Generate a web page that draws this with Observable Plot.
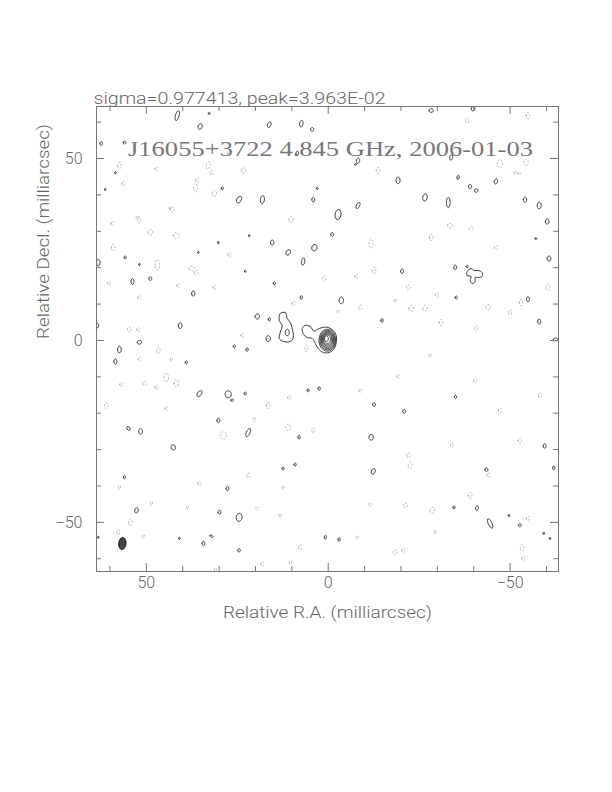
<!DOCTYPE html>
<html><head><meta charset="utf-8">
<script src="https://cdn.jsdelivr.net/npm/d3@7"></script>
<script src="https://cdn.jsdelivr.net/npm/@observablehq/plot@0.6"></script>
<style>body{margin:0;background:#fff} svg{display:block}</style>
</head><body><div id="chart"></div>
<script>
const statsLine = "sigma=0.977413, peak=3.963E-02";
const mapTitle = "J16055+3722 4.845 GHz, 2006-01-03";
const xLabel = "Relative R.A. (milliarcsec)";
const yLabel = "Relative Decl. (milliarcsec)";
const majorTicks = [-50, 0, 50];
const minorTicks = [-60, -40, -30, -20, -10, 10, 20, 30, 40, 60];
const xDomain = [63.7, -63.3];
const yDomain = [-63.5, 64.3];

// positive contour islands: [RA, Dec, semi-axis RA, semi-axis Dec, tilt deg] (mas)
const posBlobs = [
[41.5,61.8,0.5,1.4,15],[32.7,62.4,0.25,0.3,0],[35.2,58.8,0.55,0.8,20],[16.2,59.3,0.45,0.8,20],
[7.4,59.6,0.45,0.9,10],[4.4,58.0,0.45,0.5,0],[62.4,54.1,0.35,0.5,0],[56.0,54.4,0.35,0.4,0],
[8.5,51.4,0.35,0.6,0],[24.5,38.7,0.6,1.0,30],[18.1,38.7,0.55,1.1,5],[4.1,38.7,0.4,0.6,0],
[29.1,41.8,0.3,0.4,0],[3.0,41.8,0.25,0.3,0],[-28.3,63.2,0.6,0.5,0],[-39.8,63.7,0.5,0.6,20],
[-8.2,49.4,0.45,0.7,10],[-7.5,48.4,0.25,0.25,0],[-33.8,50.3,0.4,0.75,15],[-19.2,44.0,0.55,0.9,0],
[-35.7,44.8,0.3,0.6,10],[-39.0,42.3,0.45,0.6,0],[-40.7,41.2,0.45,0.5,30],[-46.1,43.7,0.45,0.7,10],
[-26.6,39.3,0.6,1.0,10],[-33.0,37.9,0.5,1.4,0],[-54.1,38.7,0.45,0.7,0],[-58.0,37.1,0.55,0.9,0],
[-8.2,37.1,0.45,0.9,25],[-2.7,34.6,0.8,1.4,10],[-60.2,32.7,0.5,0.7,0],[-1.1,29.1,0.4,0.5,0],
[-57.1,28.0,0.25,0.25,0],[-60.7,22.5,0.5,0.7,0],[-34.9,20.1,0.4,0.6,0],[-20.3,19.0,0.4,0.6,0],
[-38.2,20.3,0.25,0.3,0],[-3.6,11.0,0.6,0.9,0],[-35.2,11.8,0.3,0.4,0],[-54.9,11.3,0.4,0.7,0],
[-14.8,5.5,0.3,0.5,0],[-58.0,5.2,0.4,0.7,0],[15.4,26.9,0.45,0.7,0],[11.0,24.2,0.55,0.8,30],
[6.9,21.7,0.45,1.0,10],[3.8,25.5,0.7,0.9,20],[63.2,21.4,0.5,0.9,0],[55.8,22.8,0.3,0.4,0],
[51.9,20.9,0.2,0.3,0],[53.8,16.2,0.4,0.8,0],[48.9,17.0,0.4,0.5,0],[37.1,12.9,0.45,0.7,0],
[14.8,15.7,0.3,0.4,0],[7.4,11.8,0.3,0.5,0],[19.5,6.6,0.6,0.7,0],[16.2,5.8,0.3,0.4,0],
[40.7,4.1,0.5,0.8,0],[21.7,28.8,0.2,0.3,0],[30.2,26.9,0.2,0.35,0],[35.7,24.2,0.2,0.3,0],
[22.8,19.0,0.2,0.3,0],[61.3,41.5,0.2,0.3,0],[58.5,46.1,0.2,0.3,0],[57.4,-2.5,0.5,0.9,0],
[58.5,-5.8,0.4,0.7,0],[51.9,-0.5,0.6,0.5,0],[39.0,-6.0,0.3,0.4,0],[25.8,-1.6,0.3,0.4,0],
[22.3,-2.5,0.3,0.5,0],[16.5,0.5,0.6,0.8,0],[35.4,-14.6,0.55,0.9,35],[27.5,-14.8,0.85,0.95,0],
[26.4,-16.4,0.35,0.35,0],[22.8,-14.6,0.3,0.4,0],[5.5,-13.7,0.3,0.4,0],[2.5,-13.2,0.3,0.5,0],
[54.9,-24.2,0.4,0.6,-30],[51.6,-25.0,0.5,0.8,0],[30.2,-22.0,0.4,0.6,0],[22.0,-25.3,0.5,1.2,25],
[8.0,-26.6,0.3,0.5,0],[42.6,-29.4,0.6,0.7,-30],[56.0,-37.6,0.3,0.4,0],[27.7,-40.7,0.4,0.6,0],
[12.4,-35.2,0.3,0.4,0],[9.1,-34.1,0.3,0.4,0],[52.7,-46.7,0.5,0.7,10],[29.9,-47.2,0.4,0.5,0],
[24.5,-48.6,0.8,1.1,10],[34.3,-55.8,0.4,0.6,0],[32.1,-53.8,0.45,0.3,30],[24.5,-57.7,0.4,0.4,0],
[0.8,-54.1,0.3,0.5,0],[40.9,-54.4,0.2,0.3,0],[63.2,-54.1,0.2,0.3,0],[-34.6,-45.9,0.3,0.4,0],
[-40.9,-46.1,0.4,0.6,15],[-44.5,-50.3,0.5,1.4,-25],[-52.7,-50.8,0.4,0.4,0],[-3.0,-54.7,0.3,0.5,0],
[-49.7,-48.1,0.2,0.3,0],[-61.0,-54.4,0.2,0.3,0],[-59.3,-53.0,0.2,0.3,0],[-12.6,-17.6,0.4,0.5,0],
[-20.9,-19.5,0.4,0.5,0],[-11.8,-26.6,0.6,0.8,0],[-12.4,-36.0,0.5,0.8,20],[-35.0,-15.5,0.3,0.4,0],
[-43.5,-35.5,0.4,0.5,0],[-59.5,-29.0,0.4,0.6,0],[-62.0,-35.0,0.3,0.5,0],[63.4,4.1,0.3,0.6,0],
[11.26,2.2,0.55,0.9,0],[-62.5,0.3,0.6,0.4,0]
];

// negative contour islands (dotted): [RA, Dec, semi-axis RA, semi-axis Dec, tilt deg]
const negBlobs = [
[57.4,48.1,0.5,0.9,0],[47.2,47.2,0.4,0.6,0],[33.0,48.1,0.5,1.0,10],[32.1,46.1,0.4,0.7,0],
[23.3,46.7,0.6,0.7,0],[36.5,42.0,0.5,1.2,0],[31.3,40.4,0.6,0.8,0],[56.3,43.1,0.4,0.6,0],
[42.9,36.0,0.5,0.7,0],[51.9,33.0,0.4,0.8,0],[59.3,32.1,0.4,0.6,0],[48.9,29.7,0.6,0.8,0],
[41.8,28.8,0.8,0.8,0],[59.1,25.5,0.5,0.9,0],[47.0,20.8,0.6,1.4,0],[37.6,19.8,0.7,0.7,0],
[36.3,18.7,0.5,0.6,0],[27.2,23.6,0.4,0.6,0],[10.2,33.2,0.6,0.8,0],[9.6,10.2,0.4,0.6,0],
[54.7,3.0,0.5,0.7,0],[52.2,3.0,0.4,0.6,0],[41.2,15.1,0.4,0.6,0],[51.9,11.8,0.4,0.6,0],
[31.3,14.6,0.4,0.6,0],[60.2,15.7,0.4,0.6,0],[1.1,17.0,0.4,0.8,0],[23.6,1.4,0.4,0.6,0],
[-13.7,46.7,0.5,0.8,0],[-47.2,48.6,0.7,1.1,0],[-54.4,48.9,0.6,0.9,0],[-52.5,45.9,0.3,0.4,0],
[-33.5,31.6,0.7,0.6,0],[-39.3,30.8,0.6,0.5,0],[-11.8,26.6,0.6,1.2,0],[-28.3,28.3,0.5,0.8,0],
[-46.1,25.5,0.4,0.6,0],[-12.6,19.2,0.5,0.9,0],[-7.7,17.6,0.4,0.6,0],[-22.0,14.6,0.5,0.7,0],
[-29.9,12.6,0.4,0.6,0],[-8.8,9.1,0.4,0.7,0],[-22.8,8.8,0.6,0.8,0],[-26.6,8.8,0.6,0.8,0],
[-44.0,9.1,0.6,0.7,0],[-50.0,7.7,0.4,0.7,0],[-53.0,10.4,0.5,0.8,0],[-60.4,14.6,0.5,0.9,0],
[-31.0,4.9,0.5,0.8,0],[-40.7,3.3,0.4,0.8,0],[-18.4,11.0,0.3,0.5,0],[-2.7,8.0,0.3,0.5,0],
[46.7,-2.7,0.5,0.9,0],[51.9,-5.2,0.4,0.6,0],[43.1,-5.2,0.3,0.5,0],[44.5,-10.2,0.6,1.2,0],
[41.8,-11.8,0.6,1.0,0],[56.9,-12.1,0.4,0.6,0],[50.5,-11.8,0.5,0.6,0],[47.2,-12.9,0.4,0.6,0],
[61.0,-17.9,0.5,0.7,0],[44.5,-18.7,0.4,0.6,0],[16.5,-17.9,0.5,0.8,0],[28.8,-26.1,0.8,1.0,0],
[10.7,-15.7,0.4,0.6,0],[11.0,-23.9,0.6,0.9,0],[20.3,-21.7,0.3,0.6,0],[4.1,-24.7,0.4,0.7,0],
[35.4,-39.3,0.4,0.6,0],[22.0,-37.1,0.4,0.7,0],[12.4,-40.4,0.3,0.5,0],[48.6,-44.8,0.3,0.5,0],
[57.4,-40.4,0.3,0.5,0],[6.0,-2.2,0.4,0.8,0],[57.7,-52.7,0.4,0.7,0],[54.4,-50.0,0.5,0.9,0],
[50.8,-53.8,0.3,0.5,0],[38.7,-45.9,0.3,0.5,0],[19.5,-46.1,0.4,0.5,0],[13.2,-48.1,0.3,0.5,0],
[7.7,-56.9,0.4,0.7,0],[10.4,-61.0,0.3,0.5,0],[18.1,-61.5,0.4,0.6,0],[31.0,-62.9,0.3,0.4,0],
[-11.5,-45.1,0.4,0.5,0],[-21.2,-45.3,0.6,0.6,0],[-28.6,-46.7,0.6,0.8,0],[-18.4,-58.2,0.5,0.7,0],
[-20.6,-57.7,0.4,0.6,0],[-53.3,-57.1,0.5,0.9,0],[-53.6,-59.9,0.4,0.6,0],[-29.4,-52.7,0.3,0.5,0],
[-8.0,-54.1,0.3,0.5,0],[-54.9,-48.9,0.4,0.6,0],[-54.9,61.8,0.5,0.8,0],[-38.2,60.4,0.4,0.7,0],
[-51.4,46.1,0.3,0.5,0],[27.2,51.4,0.4,0.6,0],[36.0,44.0,0.4,0.6,0],[43.4,36.3,0.3,0.5,0],
[52.5,33.8,0.3,0.5,0],[-22.5,-34.3,0.5,0.9,0],[-22.0,-31.6,0.4,0.7,0],[-39.0,-42.6,0.5,0.8,0],
[-44.0,-37.0,0.4,0.6,0],[-34.0,-28.8,0.4,0.6,0],[-47.2,-19.2,0.4,0.6,0],[-58.2,-15.1,0.4,0.7,0],
[-40.4,-11.0,0.4,0.6,0],[-28.0,-4.1,0.3,0.5,0],[-52.7,-27.5,0.5,0.8,0],[-19.2,-9.9,0.4,0.6,0],
[-8.8,-13.7,0.3,0.5,0]
];

// core: nested contours (edges in mas)
const coreLeft   = [2.55, 2.3, 2.05, 1.85, 1.65, 1.45, 1.25, 1.05];
const coreRight  = [-2.05, -1.85, -1.65, -1.45, -1.2, -0.95, -0.65, -0.05];
const coreTop    = [3.1, 2.8, 2.5, 2.25, 2.0, 1.75, 1.5, 1.25];
const coreBottom = [-2.95, -2.6, -2.25, -1.9, -1.55, -1.2, -0.8, -0.3];

// lowest contour around core + eastern extension: [RA, Dec]
const coreOutline = [
[3.85,2.47],[4.94,3.85],[6.32,4.12],[7.14,3.30],[6.87,1.92],[5.77,0.82],[4.40,0.55],
[3.57,-0.82],[2.75,-2.20],[1.37,-3.30],[-0.27,-3.30],[-1.65,-2.20],[-2.20,-0.55],
[-2.20,1.37],[-1.37,2.75],[0,3.57],[1.65,3.57],[3.02,3.02]
];
// secondary component ~12 mas east
const jetOutline = [
[13.19,7.42],[11.81,7.69],[11.26,6.04],[10.44,4.94],[9.89,3.30],[9.61,0.82],[10.44,-0.27],
[12.36,-0.27],[13.46,0.55],[13.19,2.20],[12.64,4.12],[13.46,5.49]
];
// three-lobed island near (-40, 18)
const lobeOutline = [
[-38.18,18.95],[-39.28,19.78],[-40.10,19.23],[-41.20,19.23],[-42.30,18.68],[-42.30,17.58],
[-41.20,17.31],[-40.38,17.31],[-40.38,16.21],[-39.56,15.66],[-39.01,16.48],[-39.28,17.58],[-38.18,17.86]
];
// restoring beam: [RA, Dec, semi RA, semi Dec, tilt]
const beam = [56.6, -55.8, 1.0, 1.65, 5];

function ellipse(b, id, n = 28) {
  const [cx, cy, a, bb, t] = b;
  const th = t * Math.PI / 180;
  const pts = [];
  for (let i = 0; i < n; i++) {
    const u = 2 * Math.PI * i / n;
    const ex = a * Math.cos(u), ey = bb * Math.sin(u);
    pts.push({x: cx + ex * Math.cos(th) - ey * Math.sin(th), y: cy + ex * Math.sin(th) + ey * Math.cos(th), g: id});
  }
  return pts;
}
const posPts = posBlobs.flatMap((b, i) => ellipse(b, "p" + i));
const negPts = negBlobs.flatMap((b, i) => ellipse(b, "n" + i));
const corePts = coreLeft.flatMap((l, i) => ellipse([(l + coreRight[i]) / 2, (coreTop[i] + coreBottom[i]) / 2, (l - coreRight[i]) / 2, (coreTop[i] - coreBottom[i]) / 2, 0], "c" + i));
const outlinePts = [
  ...coreOutline.map(([x, y]) => ({x, y, g: "core"})),
  ...jetOutline.map(([x, y]) => ({x, y, g: "jet"})),
  ...lobeOutline.map(([x, y]) => ({x, y, g: "lobe"}))
];
const beamPts = ellipse(beam, "beam", 40);

const W = 612, H = 792, mL = 96, mR = 54, mT = 106, mB = 221;
const fw = W - mL - mR, fh = H - mT - mB;
const fmt = d => d < 0 ? "\u2212" + Math.abs(d) : String(d);
const axisFont = "Roboto, Lato, Liberation Sans, sans-serif";
const textColor = "#666";

const chart = Plot.plot({
  width: W, height: H,
  marginLeft: mL, marginRight: mR, marginTop: mT, marginBottom: mB,
  x: {domain: xDomain, axis: null},
  y: {domain: yDomain, axis: null},
  style: {background: "#fff"},
  marks: [
    Plot.line(negPts, {x: "x", y: "y", z: "g", curve: "linear-closed", stroke: "#999", strokeWidth: 0.8, strokeDasharray: "1,2.5"}),
    Plot.line(posPts, {x: "x", y: "y", z: "g", curve: "linear-closed", stroke: "#222", strokeWidth: 0.9}),
    Plot.line(outlinePts, {x: "x", y: "y", z: "g", curve: "catmull-rom-closed", stroke: "#222", strokeWidth: 0.9}),
    Plot.line(corePts, {x: "x", y: "y", z: "g", curve: "linear-closed", stroke: "#222", strokeWidth: 0.8}),
    Plot.line(beamPts, {x: "x", y: "y", z: "g", curve: "linear-closed", stroke: "#111", fill: "#444", strokeWidth: 1}),
    Plot.frame({stroke: "#777", strokeWidth: 1}),
    // inward ticks
    Plot.tickX(minorTicks, {x: d => d, insetTop: fh - 5, stroke: "#777"}),
    Plot.tickX(minorTicks, {x: d => d, insetBottom: fh - 5, stroke: "#777"}),
    Plot.tickX(majorTicks, {x: d => d, insetTop: fh - 8, stroke: "#777"}),
    Plot.tickX(majorTicks, {x: d => d, insetBottom: fh - 8, stroke: "#777"}),
    Plot.tickY(minorTicks, {y: d => d, insetRight: fw - 5, stroke: "#777"}),
    Plot.tickY(minorTicks, {y: d => d, insetLeft: fw - 5, stroke: "#777"}),
    Plot.tickY(majorTicks, {y: d => d, insetRight: fw - 8, stroke: "#777"}),
    Plot.tickY(majorTicks, {y: d => d, insetLeft: fw - 8, stroke: "#777"}),
    // tick labels
    Plot.text(majorTicks, {x: d => d, frameAnchor: "bottom", dy: 16, text: fmt, fontSize: 16, fontWeight: 300, fill: textColor, fontFamily: axisFont}),
    Plot.text(majorTicks, {y: d => d, frameAnchor: "left", dx: -14, textAnchor: "end", text: fmt, fontSize: 16, fontWeight: 300, fill: textColor, fontFamily: axisFont}),
    // labels
    Plot.text([xLabel], {frameAnchor: "bottom", dy: 46, text: d => d, fontSize: 16, fontWeight: 300, fill: textColor, fontFamily: axisFont}),
    Plot.text([yLabel], {frameAnchor: "left", dx: -53, rotate: -90, text: d => d, fontSize: 16, fontWeight: 300, fill: textColor, fontFamily: axisFont}),
    Plot.text([statsLine], {frameAnchor: "top-left", dx: -3, dy: -14, textAnchor: "start", text: d => d, fontSize: 16, fontWeight: 300, fill: textColor, fontFamily: axisFont}),
    Plot.text([mapTitle], {frameAnchor: "top", dx: 3, dy: 34, text: d => d, fontSize: 22, fill: "#777", fontFamily: "Liberation Serif, DejaVu Serif, serif"})
  ]
});

const lengths = {};
lengths[mapTitle] = 405; lengths[statsLine] = 292; lengths[xLabel] = 209; lengths[yLabel] = 215;
d3.select(chart).selectAll("text").each(function() {
  const t = this.textContent;
  if (lengths[t]) { this.setAttribute("textLength", lengths[t]); this.setAttribute("lengthAdjust", "spacingAndGlyphs"); }
});
document.getElementById("chart").appendChild(chart);
</script>
</body></html>
